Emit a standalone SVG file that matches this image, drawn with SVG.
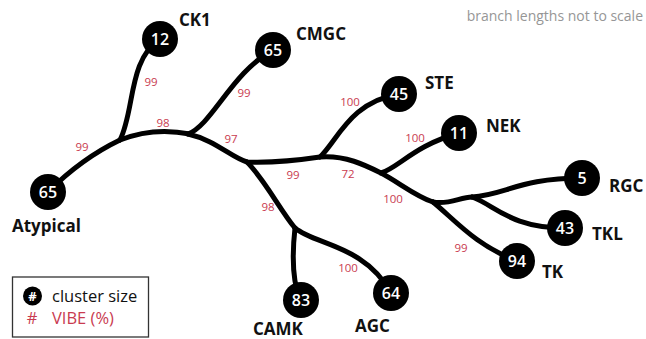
<svg xmlns="http://www.w3.org/2000/svg" width="646" height="339" viewBox="0 0 646 339">
  <style>
    .edge { fill: none; stroke: #000; stroke-width: 5; stroke-linecap: round; stroke-linejoin: round; }
    .dot { fill: #000; }
    .num { font-family: "Open Sans", "Noto Sans", sans-serif; font-size: 16px; font-weight: 600; fill: #fff; text-anchor: middle; }
    .name { font-family: "Open Sans", "Noto Sans", sans-serif; font-size: 17px; font-weight: 700; fill: #111; }
    .vibe { font-family: "Open Sans", "Noto Sans", sans-serif; font-size: 11.5px; fill: #c93b50; text-anchor: middle; }
    .legend { font-family: "Open Sans", "Noto Sans", sans-serif; font-size: 16.5px; }
    .note { font-family: "Open Sans", "Noto Sans", sans-serif; font-size: 14px; fill: #969696; text-anchor: end; }
  </style>

  <text class="note" x="643" y="21">branch lengths not to scale</text>

  <!-- tree branches -->
  <g id="connectors">
    <path class="edge" d="M48,192 C70,170 95,152 120,140"/>
    <path class="edge" d="M120,140 C145,130 170,130 190,134"/>
    <path class="edge" d="M120,140 C135,110 128,60 160,39"/>
    <path class="edge" d="M188,134 C212,125 232,72 273,50"/>
    <path class="edge" d="M188,134 C215,140 232,158 247,162 C275,163 300,160 320,157 C345,155 365,165 381,173 C400,183 415,196 433,202"/>
    <path class="edge" d="M247,162 C265,180 280,210 295,228"/>
    <path class="edge" d="M295,228 C292,255 292,280 300,300"/>
    <path class="edge" d="M295,228 C315,245 365,245 391,293"/>
    <path class="edge" d="M320,157 C338,140 350,102 399,94"/>
    <path class="edge" d="M381,173 C398,168 415,145 459,133"/>
    <path class="edge" d="M433,202 C455,220 475,245 517,261"/>
    <path class="edge" d="M433,202 C450,205 460,197 472,197"/>
    <path class="edge" d="M472,197 C505,195 520,178 582,178"/>
    <path class="edge" d="M472,197 C495,205 510,228 565,228"/>
  </g>

  <!-- support values -->
  <g id="vibe-labels">
    <text class="vibe" x="82" y="151">99</text>
    <text class="vibe" x="151" y="86">99</text>
    <text class="vibe" x="163" y="127">98</text>
    <text class="vibe" x="244" y="97">99</text>
    <text class="vibe" x="231" y="143">97</text>
    <text class="vibe" x="293" y="179">99</text>
    <text class="vibe" x="268" y="211">98</text>
    <text class="vibe" x="348" y="272">100</text>
    <text class="vibe" x="350" y="106">100</text>
    <text class="vibe" x="348" y="178">72</text>
    <text class="vibe" x="415" y="142">100</text>
    <text class="vibe" x="393" y="203">100</text>
    <text class="vibe" x="461" y="252">99</text>
  </g>

  <!-- clusters -->
  <g id="atypical">
    <circle class="dot" cx="48" cy="192" r="18"/>
    <text class="num" x="48" y="198">65</text>
    <text class="name" x="12" y="232">Atypical</text>
  </g>
  <g id="ck1">
    <circle class="dot" cx="160" cy="39" r="18"/>
    <text class="num" x="160" y="45">12</text>
    <text class="name" x="179" y="26">CK1</text>
  </g>
  <g id="cmgc">
    <circle class="dot" cx="273" cy="50" r="18"/>
    <text class="num" x="273" y="56">65</text>
    <text class="name" x="296" y="40">CMGC</text>
  </g>
  <g id="ste">
    <circle class="dot" cx="399" cy="94" r="18"/>
    <text class="num" x="399" y="100">45</text>
    <text class="name" x="425" y="89">STE</text>
  </g>
  <g id="nek">
    <circle class="dot" cx="459" cy="133" r="18"/>
    <text class="num" x="459" y="139">11</text>
    <text class="name" x="486" y="132">NEK</text>
  </g>
  <g id="rgc">
    <circle class="dot" cx="582" cy="178" r="18"/>
    <text class="num" x="582" y="184">5</text>
    <text class="name" x="609" y="192">RGC</text>
  </g>
  <g id="tkl">
    <circle class="dot" cx="565" cy="228" r="18"/>
    <text class="num" x="565" y="234">43</text>
    <text class="name" x="592" y="240">TKL</text>
  </g>
  <g id="tk">
    <circle class="dot" cx="517" cy="261" r="18"/>
    <text class="num" x="517" y="267">94</text>
    <text class="name" x="542" y="278">TK</text>
  </g>
  <g id="camk">
    <circle class="dot" cx="301" cy="300" r="18"/>
    <text class="num" x="301" y="306">83</text>
    <text class="name" x="253" y="335">CAMK</text>
  </g>
  <g id="agc">
    <circle class="dot" cx="391" cy="293" r="18"/>
    <text class="num" x="391" y="299">64</text>
    <text class="name" x="355" y="332">AGC</text>
  </g>

  <!-- key -->
  <g id="legend">
    <rect x="12.5" y="277" width="136" height="60" fill="#fff" stroke="#333" stroke-width="1.3"/>
    <circle class="dot" cx="32.5" cy="296" r="9.5"/>
    <text x="32.5" y="301" font-family="Open Sans, sans-serif" font-size="13px" font-weight="700" fill="#fff" text-anchor="middle">#</text>
    <text class="legend" x="52" y="302" fill="#111">cluster size</text>
    <text class="legend" x="32" y="324" fill="#c93b50" text-anchor="middle">#</text>
    <text class="legend" x="52" y="324" fill="#c93b50">VIBE (%)</text>
  </g>
</svg>
